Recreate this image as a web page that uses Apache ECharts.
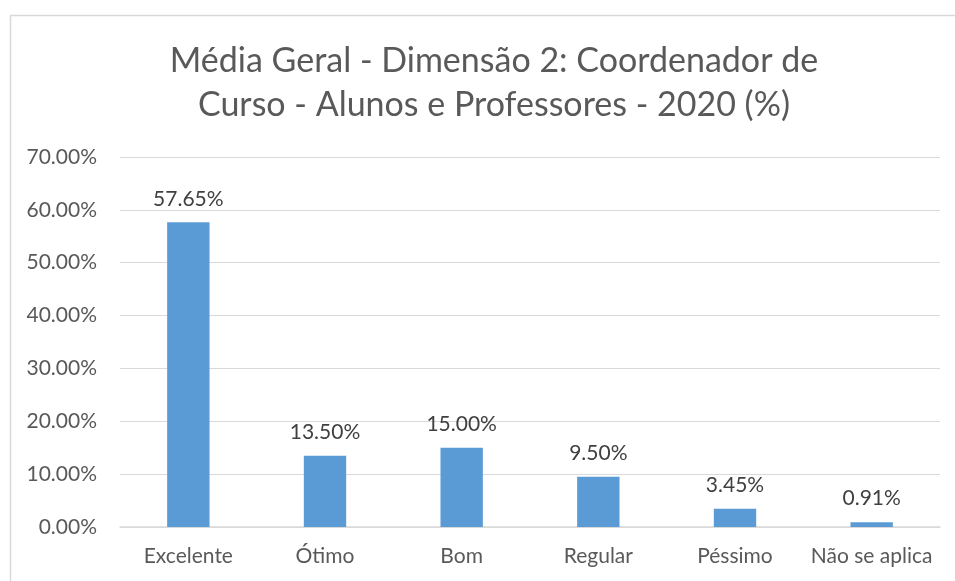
<!DOCTYPE html>
<html>
<head>
<meta charset="utf-8">
<script src="https://cdn.jsdelivr.net/npm/echarts@6/dist/echarts.min.js"></script>
<style>
  html, body { margin: 0; padding: 0; background: #fff; }
  #main { width: 955px; height: 581px; }
</style>
</head>
<body>
<div id="main"></div>
<script>
const categories = ['Excelente', 'Ótimo', 'Bom', 'Regular', 'Péssimo', 'Não se aplica']
const values = [57.65, 13.5, 15.0, 9.5, 3.45, 0.91]
const titleText = 'Média Geral - Dimensão 2: Coordenador de\nCurso - Alunos e Professores - 2020 (%)'

const chart = echarts.init(document.getElementById('main'))
const font = 'Lato, "Open Sans", sans-serif'

const option = {
  animation: false,
  graphic: [
    {
      type: 'rect',
      left: 8,
      top: 13,
      shape: { width: 1000, height: 600 },
      style: { fill: 'none', stroke: '#d9d9d9', lineWidth: 1.5 }
    }
  ],
  title: {
    text: titleText,
    left: 489,
    top: 34,
    textAlign: 'center',
    textStyle: {
      color: '#595959',
      fontSize: 34,
      fontWeight: 'normal',
      fontFamily: font,
      lineHeight: 44
    }
  },
  grid: {
    left: 120,
    right: 15,
    top: 157,
    bottom: 54,
    containLabel: false
  },
  xAxis: {
    type: 'category',
    data: categories,
    axisLine: { lineStyle: { color: '#d9d9d9', width: 1.5 } },
    axisTick: { show: false },
    axisLabel: {
      interval: 0,
      color: '#595959',
      fontSize: 21,
      fontFamily: font,
      margin: 19
    }
  },
  yAxis: {
    type: 'value',
    min: 0,
    max: 70,
    interval: 10,
    axisLine: { show: false },
    axisTick: { show: false },
    splitLine: { lineStyle: { color: '#d9d9d9', width: 1.2 } },
    axisLabel: {
      color: '#595959',
      fontSize: 21,
      fontFamily: font,
      margin: 23,
      formatter: v => v.toFixed(2) + '%'
    }
  },
  series: [
    {
      type: 'bar',
      data: values,
      barWidth: '31%',
      itemStyle: { color: '#5b9bd5' },
      label: {
        show: true,
        position: 'top',
        distance: 13,
        color: '#404040',
        fontSize: 21,
        fontFamily: font,
        formatter: p => p.value.toFixed(2) + '%'
      }
    }
  ]
}
chart.setOption(option)
</script>
</body>
</html>
